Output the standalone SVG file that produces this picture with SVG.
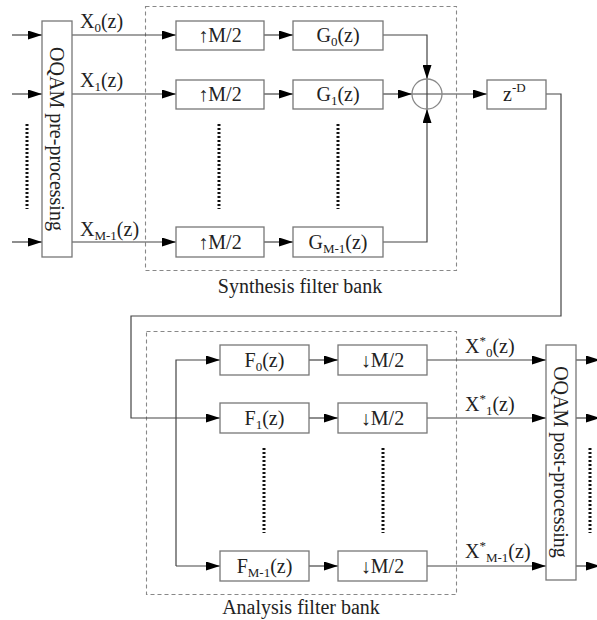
<svg xmlns="http://www.w3.org/2000/svg" width="597" height="620" viewBox="0 0 597 620">
  <style>
    .box { fill: #fff; stroke: #777; stroke-width: 1.3; }
    .bank { fill: none; stroke: #888; stroke-width: 1.1; stroke-dasharray: 4 3; }
    .wire { fill: none; stroke: #444; stroke-width: 1.2; }
    .dots { fill: none; stroke: #111; stroke-width: 3; stroke-dasharray: 2 2; }
    text { font-family: "Liberation Serif", "Times New Roman", serif; font-size: 20px; fill: #222; }
    .mid { text-anchor: middle; }
    .sm { font-size: 13px; }
  </style>
  <defs>
    <marker id="arrow" viewBox="0 0 14 9" refX="14" refY="4.5" markerWidth="14" markerHeight="9" markerUnits="userSpaceOnUse" orient="auto">
      <path d="M0,0 L14,4.5 L0,9 z" fill="#000"/>
    </marker>
  </defs>

  <!-- filter bank outlines -->
  <rect class="bank" x="145.5" y="6.5" width="311" height="264"/>
  <text class="mid" x="300" y="293">Synthesis filter bank</text>
  <rect class="bank" x="146.5" y="331.5" width="310" height="263"/>
  <text class="mid" x="301" y="614">Analysis filter bank</text>

  <!-- connectors -->
  <g id="connectors">
    <path class="wire" d="M12,35 H42" marker-end="url(#arrow)"/>
    <path class="wire" d="M12,94 H42" marker-end="url(#arrow)"/>
    <path class="wire" d="M12,242 H42" marker-end="url(#arrow)"/>
    <path class="dots" d="M27,124 V209"/>

    <path class="wire" d="M72,35 H176" marker-end="url(#arrow)"/>
    <path class="wire" d="M72,94 H176" marker-end="url(#arrow)"/>
    <path class="wire" d="M72,242 H176" marker-end="url(#arrow)"/>

    <path class="wire" d="M264,35 H293" marker-end="url(#arrow)"/>
    <path class="wire" d="M264,94 H293" marker-end="url(#arrow)"/>
    <path class="wire" d="M264,242 H293" marker-end="url(#arrow)"/>
    <path class="dots" d="M219,124 V209"/>
    <path class="dots" d="M338,124 V209"/>

    <path class="wire" d="M383,35 H427 V79" marker-end="url(#arrow)"/>
    <path class="wire" d="M383,94 H412" marker-end="url(#arrow)"/>
    <path class="wire" d="M383,242 H427 V109" marker-end="url(#arrow)"/>
    <path class="wire" d="M427,79 V109"/>
    <path class="wire" d="M412,94 H487" marker-end="url(#arrow)"/>

    <path class="wire" d="M546,94 H561 V316 H131 V418 H220" marker-end="url(#arrow)"/>
    <path class="wire" d="M176,566 V360 H220" marker-end="url(#arrow)"/>
    <path class="wire" d="M176,566 H220" marker-end="url(#arrow)"/>

    <path class="wire" d="M309,360 H338" marker-end="url(#arrow)"/>
    <path class="wire" d="M309,418 H338" marker-end="url(#arrow)"/>
    <path class="wire" d="M309,566 H338" marker-end="url(#arrow)"/>
    <path class="dots" d="M264,448 V533"/>
    <path class="dots" d="M383,448 V533"/>

    <path class="wire" d="M427,360 H546" marker-end="url(#arrow)"/>
    <path class="wire" d="M427,418 H546" marker-end="url(#arrow)"/>
    <path class="wire" d="M427,566 H546" marker-end="url(#arrow)"/>

    <path class="wire" d="M576,360 H600" marker-end="url(#arrow)"/>
    <path class="wire" d="M576,418 H600" marker-end="url(#arrow)"/>
    <path class="wire" d="M576,566 H600" marker-end="url(#arrow)"/>
    <path class="dots" d="M590,448 V533"/>

    <!-- signal labels -->
    <text x="80" y="28">X<tspan class="sm" dy="4">0</tspan><tspan dy="-4">(z)</tspan></text>
    <text x="80" y="87">X<tspan class="sm" dy="4">1</tspan><tspan dy="-4">(z)</tspan></text>
    <text x="80" y="236">X<tspan class="sm" dy="4">M-1</tspan><tspan dy="-4">(z)</tspan></text>
    <text x="465" y="353">X<tspan class="sm" dy="-8">*</tspan><tspan class="sm" dy="12">0</tspan><tspan dy="-4">(z)</tspan></text>
    <text x="465" y="411">X<tspan class="sm" dy="-8">*</tspan><tspan class="sm" dy="12">1</tspan><tspan dy="-4">(z)</tspan></text>
    <text x="465" y="558">X<tspan class="sm" dy="-8">*</tspan><tspan class="sm" dy="12">M-1</tspan><tspan dy="-4">(z)</tspan></text>
  </g>

  <!-- pre / post processing -->
  <g id="pre">
    <rect class="box" x="42" y="21" width="30" height="236"/>
    <text class="mid" transform="translate(57,139) rotate(90)" y="7">OQAM pre-processing</text>
  </g>
  <g id="post">
    <rect class="box" x="546" y="345" width="30" height="235"/>
    <text class="mid" transform="translate(561,462) rotate(90)" y="7">OQAM post-processing</text>
  </g>

  <!-- synthesis branches -->
  <g id="up0"><rect class="box" x="176" y="21" width="88" height="29"/><text class="mid" x="220" y="42">↑M/2</text></g>
  <g id="up1"><rect class="box" x="176" y="80" width="88" height="29"/><text class="mid" x="220" y="101">↑M/2</text></g>
  <g id="upM"><rect class="box" x="176" y="227" width="88" height="30"/><text class="mid" x="220" y="249">↑M/2</text></g>
  <g id="g0"><rect class="box" x="293" y="21" width="90" height="29"/><text class="mid" x="338" y="42">G<tspan class="sm" dy="4">0</tspan><tspan dy="-4">(z)</tspan></text></g>
  <g id="g1"><rect class="box" x="293" y="80" width="90" height="29"/><text class="mid" x="338" y="101">G<tspan class="sm" dy="4">1</tspan><tspan dy="-4">(z)</tspan></text></g>
  <g id="gM"><rect class="box" x="293" y="227" width="90" height="30"/><text class="mid" x="338" y="249">G<tspan class="sm" dy="4">M-1</tspan><tspan dy="-4">(z)</tspan></text></g>

  <g id="sum">
    <circle cx="427" cy="94" r="15" fill="none" stroke="#888" stroke-width="1.3"/>
  </g>

  <g id="delay">
    <rect class="box" x="487" y="80" width="59" height="29"/>
    <text x="503" y="101">z<tspan class="sm" dy="-9">-D</tspan></text>
  </g>

  <!-- analysis branches -->
  <g id="f0"><rect class="box" x="220" y="345" width="89" height="30"/><text class="mid" x="264.5" y="367">F<tspan class="sm" dy="4">0</tspan><tspan dy="-4">(z)</tspan></text></g>
  <g id="f1"><rect class="box" x="220" y="403" width="89" height="30"/><text class="mid" x="264.5" y="425">F<tspan class="sm" dy="4">1</tspan><tspan dy="-4">(z)</tspan></text></g>
  <g id="fM"><rect class="box" x="220" y="551" width="89" height="30"/><text class="mid" x="264.5" y="573">F<tspan class="sm" dy="4">M-1</tspan><tspan dy="-4">(z)</tspan></text></g>
  <g id="down0"><rect class="box" x="338" y="345" width="89" height="30"/><text class="mid" x="382.5" y="367">↓M/2</text></g>
  <g id="down1"><rect class="box" x="338" y="403" width="89" height="30"/><text class="mid" x="382.5" y="425">↓M/2</text></g>
  <g id="downM"><rect class="box" x="338" y="551" width="89" height="30"/><text class="mid" x="382.5" y="573">↓M/2</text></g>
</svg>
